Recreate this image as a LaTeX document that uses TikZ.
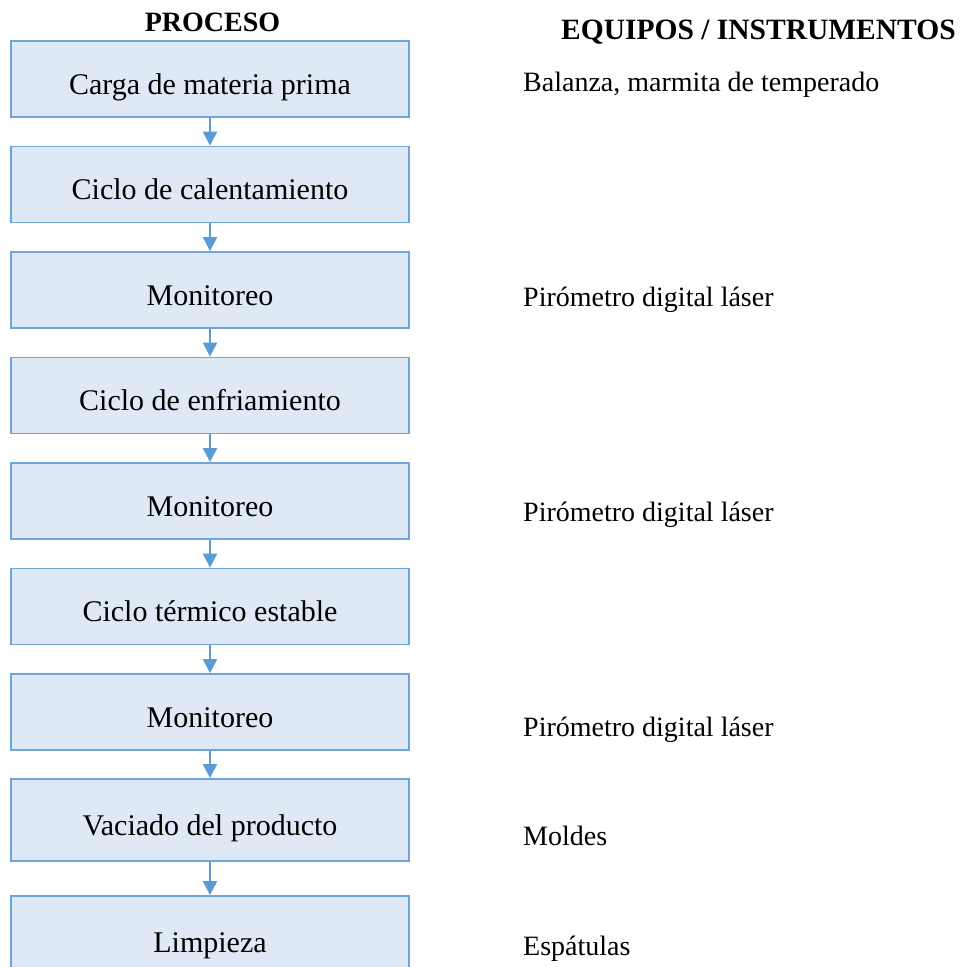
\documentclass[tikz,border=0pt]{standalone}
\usepackage{fontspec}
\setmainfont{Liberation Serif}
\usetikzlibrary{arrows.meta}
\definecolor{boxfill}{HTML}{DEE9F5}
\definecolor{boxline}{HTML}{6FA5DD}
\definecolor{arrowblue}{HTML}{5B9BD5}
\tikzset{
  stepbox/.style={draw=boxline, fill=boxfill, line width=1.8pt, rectangle,
    minimum width=398pt, minimum height=76pt, inner sep=0pt,
    text height=32pt, text depth=2pt, font=\fontsize{30}{36}\selectfont},
  flow/.style={draw=arrowblue, line width=2.2pt,
    -{Triangle[width=14pt,length=14pt]}},
  tool/.style={anchor=base west, inner sep=0pt, font=\fontsize{28}{34}\selectfont},
  header/.style={anchor=base, inner sep=0pt, font=\fontsize{28}{34}\selectfont\bfseries}
}
\begin{document}
\begin{tikzpicture}[x=1pt,y=-1pt]
\useasboundingbox (0,0) rectangle (971,966);
\clip (0,0) rectangle (971,966);

% column headers
\node[header] (hproc) at (212.5,32) {PROCESO};
\node[header, anchor=base west, font=\fontsize{29.5}{35}\selectfont\bfseries] (hequip) at (561,40) {EQUIPOS / INSTRUMENTOS};

% process steps
\node[stepbox] (s1) at (210,79) {Carga de materia prima};
\node[stepbox] (s2) at (210,184.5) {Ciclo de calentamiento};
\node[stepbox] (s3) at (210,290) {Monitoreo};
\node[stepbox] (s4) at (210,395.5) {Ciclo de enfriamiento};
\node[stepbox] (s5) at (210,501) {Monitoreo};
\node[stepbox] (s6) at (210,606.5) {Ciclo térmico estable};
\node[stepbox] (s7) at (210,712) {Monitoreo};
\node[stepbox, minimum height=82pt] (s8) at (210,820) {Vaciado del producto};
\node[stepbox, minimum height=82pt] (s9) at (210,937) {Limpieza};

% connectors
\foreach \a/\b in {s1/s2,s2/s3,s3/s4,s4/s5,s5/s6,s6/s7,s7/s8,s8/s9}
  \draw[flow] (\a.south) -- (\b.north);

% equipment column
\node[tool] (t1) at (523,92) {Balanza, marmita de temperado};
\node[tool] (t3) at (523,306) {Pirómetro digital láser};
\node[tool] (t5) at (523,521) {Pirómetro digital láser};
\node[tool] (t7) at (523,736) {Pirómetro digital láser};
\node[tool] (t8) at (523,845) {Moldes};
\node[tool] (t9) at (523,955) {Espátulas};
\end{tikzpicture}
\end{document}
